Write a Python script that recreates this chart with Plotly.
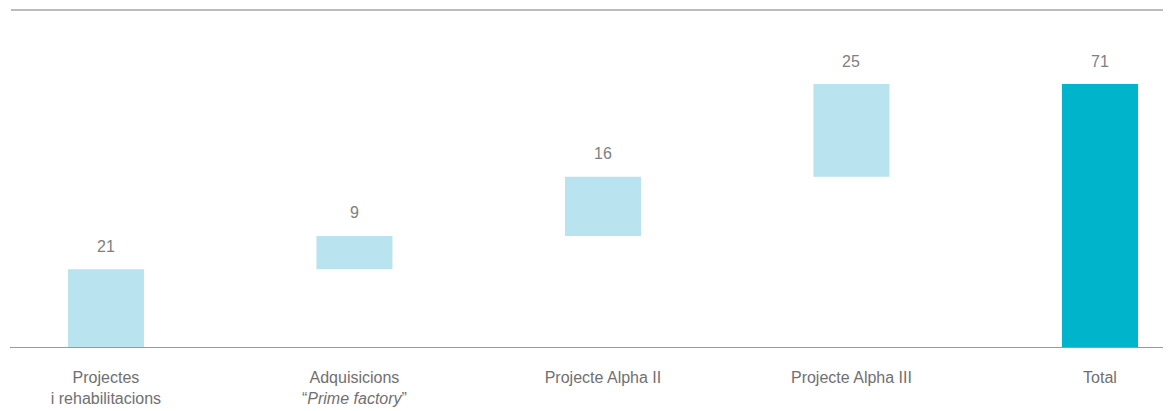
import plotly.graph_objects as go

categories = ["Projectes<br>i rehabilitacions", "Adquisicions<br>“<i>Prime factory</i>”",
              "Projecte Alpha II", "Projecte Alpha III", "Total"]
values = [21, 9, 16, 25, 71]
measures = ["relative", "relative", "relative", "relative", "total"]
labels = ["21", "9", "16", "25", "71"]

fig = go.Figure()
fig.add_trace(go.Waterfall(
    x=categories, y=[21, 9, 16, 25, None], measure=measures,
    increasing=dict(marker=dict(color="#b9e3ef")),
    decreasing=dict(marker=dict(color="#b9e3ef")),
    totals=dict(marker=dict(color="#00b4cc")),
    connector=dict(visible=False),
    width=0.306, textposition="none", hoverinfo="x+y",
))

tops = []
acc = 0
for m, v in zip(measures, values):
    if m == "total":
        tops.append(v)
    else:
        acc += v
        tops.append(acc)

for c, t, lab in zip(categories, tops, labels):
    fig.add_annotation(x=c, y=t, text=lab, showarrow=False, yanchor="middle",
                       yshift=23, font=dict(size=16, color="#808080",
                                            family="Liberation Sans, Arial, sans-serif"))

fig.add_shape(type="line", xref="paper", yref="paper", x0=0.0008, x1=1, y0=1, y1=1,
              line=dict(color="#7a7a7a", width=1.2))

fig.update_layout(
    width=1171, height=403,
    margin=dict(l=2, r=0, t=2, b=64),
    plot_bgcolor="white", paper_bgcolor="white",
    showlegend=False,
    font=dict(family="Liberation Sans, Arial, sans-serif", size=16, color="#707070"),
    xaxis=dict(range=[-0.386, 4.318], showgrid=False, zeroline=False, showline=True,
               linecolor="#9a9a9a", linewidth=1.2, ticks="", ticklabelstandoff=16,
               tickfont=dict(size=16, color="#707070")),
    yaxis=dict(range=[0, 91], visible=False, showgrid=False, zeroline=False),
)

fig.write_html("out.html")
